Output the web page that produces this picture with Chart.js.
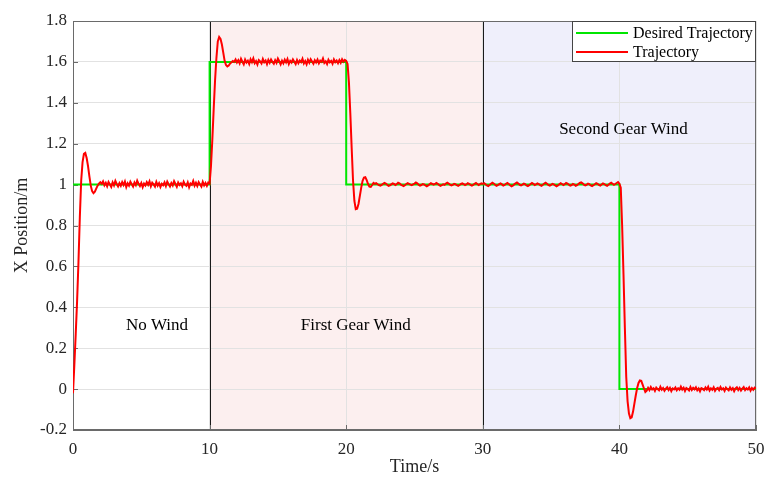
<!DOCTYPE html>
<html>
<head>
<meta charset="utf-8">
<script src="https://cdn.jsdelivr.net/npm/chart.js@4.4.1/dist/chart.umd.min.js"></script>
<style>
  html, body { margin: 0; padding: 0; background: #fff; }
  #wrap { width: 766px; height: 482px; }
</style>
</head>
<body>
<div id="wrap"><canvas id="chart" width="766" height="482"></canvas></div>
<script>
/* x position step response under three wind conditions */
const dt = 0.1; // sample step, seconds

// measured trajectory, one value every 0.1 s
const seg0 = [ // 0.0 – 9.9 s, no wind
  -0.02, 0.12, 0.27, 0.43, 0.62, 0.84, 1.02, 1.11, 1.15, 1.155,
  1.13, 1.09, 1.04, 0.995, 0.968, 0.958, 0.965, 0.98, 0.995, 1.005,
  1.012, 1.004, 1.016, 0.997, 1.009, 0.992, 1.013, 1.001, 0.989, 1.011,
  0.996, 1.018, 1.003, 0.991, 1.007, 0.994, 1.012, 0.998, 1.015, 0.988,
  1.006, 0.995, 1.014, 1.002, 0.99, 1.01, 0.997, 1.019, 1.004, 0.993,
  1.008, 0.987, 1.005, 0.996, 1.012, 0.999, 1.016, 0.992, 1.009, 1.001,
  0.99, 1.013, 0.995, 1.007, 0.988, 1.004, 0.997, 1.011, 0.993, 1.015,
  1.002, 0.991, 1.008, 0.996, 1.017, 1.003, 0.989, 1.01, 0.998, 1.006,
  0.992, 1.014, 1.0, 0.994, 1.011, 0.987, 1.005, 0.999, 1.018, 0.995,
  1.009, 0.993, 1.012, 1.001, 0.99, 1.013, 0.996, 1.008, 0.994, 1.01
];
const seg1 = [ // 10.0 – 19.9 s, first gear wind
  1.005, 1.09, 1.22, 1.37, 1.51, 1.62, 1.7, 1.722, 1.712, 1.685,
  1.645, 1.605, 1.585, 1.578, 1.582, 1.592, 1.598, 1.604, 1.6, 1.612,
  1.597, 1.608, 1.593, 1.615, 1.601, 1.588, 1.611, 1.597, 1.606, 1.59,
  1.613, 1.599, 1.617, 1.594, 1.604, 1.587, 1.609, 1.602, 1.592, 1.614,
  1.598, 1.607, 1.589, 1.61, 1.596, 1.612, 1.6, 1.591, 1.608, 1.595,
  1.616, 1.603, 1.588, 1.606, 1.593, 1.611, 1.598, 1.614, 1.59, 1.605,
  1.597, 1.612, 1.601, 1.589, 1.609, 1.594, 1.607, 1.599, 1.615, 1.592,
  1.604, 1.588, 1.61, 1.596, 1.613, 1.602, 1.591, 1.608, 1.597, 1.611,
  1.593, 1.606, 1.6, 1.617, 1.595, 1.603, 1.589, 1.61, 1.598, 1.605,
  1.591, 1.612, 1.599, 1.607, 1.594, 1.609, 1.596, 1.613, 1.601, 1.61
];
const seg2 = [ // 20.0 – 29.9 s, first gear wind
  1.605, 1.59, 1.5, 1.35, 1.18, 1.02, 0.92, 0.88, 0.882, 0.905,
  0.945, 0.985, 1.018, 1.034, 1.036, 1.022, 1.003, 0.99, 0.989, 0.998,
  1.008, 1.004, 1.007, 1.002, 0.997, 0.995, 0.999, 1.004, 1.008, 1.005,
  0.999, 0.994, 0.996, 1.001, 1.006, 1.003, 0.998, 1.002, 1.009, 1.006,
  1.0, 0.996, 0.993, 0.997, 1.003, 1.007, 1.004, 1.0, 0.997, 1.001,
  1.005, 1.01, 1.006, 0.999, 0.995, 0.998, 1.003, 1.001, 0.996, 0.992,
  0.996, 1.002, 1.007, 1.004, 1.0, 1.003, 1.008, 1.004, 0.998, 0.994,
  0.997, 1.001, 0.999, 1.005, 1.009, 1.005, 1.0, 0.996, 0.999, 1.004,
  1.002, 0.997, 0.994, 0.998, 1.003, 1.006, 1.002, 0.998, 1.001, 1.007,
  1.004, 0.999, 0.995, 0.999, 1.004, 1.008, 1.003, 0.998, 1.002, 1.006
];
const seg3 = [ // 30.0 – 39.9 s, second gear wind
  1.003, 1.007, 1.002, 0.996, 0.993, 0.998, 1.004, 1.009, 1.005, 0.999,
  0.994, 0.997, 1.002, 1.006, 1.001, 0.995, 0.998, 1.004, 1.008, 1.003,
  0.997, 0.992, 0.995, 1.001, 1.006, 1.01, 1.005, 0.999, 0.996, 1.0,
  1.005, 1.002, 0.996, 0.993, 0.997, 1.003, 1.008, 1.004, 0.998, 1.001,
  1.006, 1.003, 0.997, 0.994, 0.999, 1.005, 1.009, 1.004, 0.998, 0.995,
  0.999, 1.004, 1.001, 0.996, 0.992, 0.996, 1.002, 1.007, 1.003, 0.998,
  1.002, 1.008, 1.005, 0.999, 0.995, 0.998, 1.003, 1.0, 0.994, 0.997,
  1.003, 1.008, 1.011, 1.006, 1.0, 0.996, 0.999, 1.005, 1.002, 0.996,
  0.993, 0.997, 1.002, 1.007, 1.004, 0.998, 0.995, 1.0, 1.006, 1.003,
  0.997, 0.994, 0.999, 1.005, 1.009, 1.004, 0.999, 1.003, 1.008, 1.012
];
const seg4 = [ // 40.0 – 50.0 s, second gear wind
  1.004, 0.985, 0.8, 0.56, 0.3, 0.06, -0.06, -0.12, -0.142, -0.138,
  -0.11, -0.07, -0.03, 0.005, 0.03, 0.042, 0.04, 0.022, 0.003, -0.014,
  -0.008, 0.006, -0.005, 0.01, -0.002, 0.004, -0.009, 0.007, 0.0, -0.006,
  0.011, -0.003, 0.005, -0.008, 0.002, 0.009, -0.004, 0.006, -0.01, 0.003,
  -0.001, 0.008, -0.006, 0.004, -0.003, 0.012, -0.002, 0.007, -0.009, 0.005,
  0.0, -0.007, 0.01, -0.004, 0.006, -0.001, 0.009, -0.006, 0.003, -0.011,
  0.005, 0.001, -0.005, 0.008, -0.002, 0.011, -0.007, 0.004, -0.003, 0.009,
  -0.008, 0.002, 0.006, -0.005, 0.01, -0.002, 0.004, -0.009, 0.007, 0.0,
  -0.006, 0.008, -0.003, 0.005, -0.01, 0.003, 0.009, -0.004, 0.006, -0.007,
  0.002, 0.01, -0.005, 0.004, -0.002, 0.008, -0.008, 0.005, -0.003, 0.007,
  0.002
];
const trajX = [].concat(seg0, seg1, seg2, seg3, seg4);

// reference (desired) trajectory, as step corners
const desiredT = [0, 10, 10, 20, 20, 40, 40, 50];
const desiredX = [1, 1, 1.6, 1.6, 1, 1, 0, 0];

// wind zones
const windStart = [10, 30];
const windEnd = [30, 50];
const windFill = ['#fcefef', '#efeffb'];
const windLines = [10, 30];

const zoneNames = ['No Wind', 'First Gear Wind', 'Second Gear Wind'];
const zoneT = [6.15, 20.7, 40.3];
const zoneX = [0.31, 0.31, 1.27];

const legendNames = ['Desired Trajectory', 'Trajectory'];
const GREEN = '#00e600', RED = '#ff0000';
const SERIF = '"Liberation Serif", "Times New Roman", serif';
const INK = '#262626';

const trajData = trajX.map((v, i) => ({ x: +(i * dt).toFixed(1), y: v }));
const desiredData = desiredT.map((t, i) => ({ x: t, y: desiredX[i] }));

const zonesPlugin = {
  id: 'zones',
  beforeDraw(chart) {
    const { ctx, chartArea: a, scales: { x } } = chart;
    ctx.save();
    windStart.forEach((s, i) => {
      const x0 = x.getPixelForValue(s), x1 = x.getPixelForValue(windEnd[i]);
      ctx.fillStyle = windFill[i];
      ctx.fillRect(x0, a.top, x1 - x0, a.bottom - a.top);
    });
    ctx.restore();
  },
  beforeDatasetsDraw(chart) {
    const { ctx, chartArea: a, scales: { x, y } } = chart;
    ctx.save();
    // wind change markers
    ctx.strokeStyle = '#1a1a1a';
    ctx.lineWidth = 1;
    windLines.forEach(t => {
      const px = Math.round(x.getPixelForValue(t)) + 0.5;
      ctx.beginPath(); ctx.moveTo(px, a.top); ctx.lineTo(px, a.bottom); ctx.stroke();
    });
    // box
    ctx.strokeStyle = '#6a6a6a';
    ctx.strokeRect(a.left + 0.5, a.top + 0.5, a.right - a.left - 1, a.bottom - a.top - 1);
    // inward ticks
    ctx.beginPath();
    y.ticks.forEach(tk => {
      const py = Math.round(y.getPixelForValue(tk.value)) + 0.5;
      ctx.moveTo(a.left, py); ctx.lineTo(a.left + 5, py);
    });
    x.ticks.forEach(tk => {
      const px = Math.round(x.getPixelForValue(tk.value)) + 0.5;
      ctx.moveTo(px, a.bottom); ctx.lineTo(px, a.bottom - 5);
    });
    ctx.stroke();
    ctx.restore();
  },
  afterDatasetsDraw(chart) {
    const { ctx, scales: { x, y } } = chart;
    ctx.save();
    ctx.fillStyle = '#000';
    ctx.font = '17px ' + SERIF;
    ctx.textAlign = 'center';
    ctx.textBaseline = 'middle';
    zoneNames.forEach((n, i) => ctx.fillText(n, x.getPixelForValue(zoneT[i]), y.getPixelForValue(zoneX[i])));
    ctx.restore();
  },
  afterDraw(chart) {
    const { ctx, chartArea: a } = chart;
    ctx.save();
    // axis titles
    ctx.fillStyle = INK;
    ctx.font = '18px ' + SERIF;
    ctx.textAlign = 'center';
    ctx.textBaseline = 'middle';
    ctx.fillText('Time/s', (a.left + a.right) / 2, 467);
    ctx.translate(22, (a.top + a.bottom) / 2);
    ctx.rotate(-Math.PI / 2);
    ctx.fillText('X Position/m', 0, 0);
    ctx.restore();

    // legend
    ctx.save();
    const bx = 572, by = a.top, bw = a.right - 572, bh = 41;
    ctx.fillStyle = '#fff';
    ctx.fillRect(bx, by, bw, bh);
    ctx.strokeStyle = '#444';
    ctx.lineWidth = 1;
    ctx.strokeRect(bx + 0.5, by + 0.5, bw - 1, bh - 1);
    ctx.font = '16px ' + SERIF;
    ctx.textBaseline = 'middle';
    ctx.textAlign = 'left';
    [GREEN, RED].forEach((c, i) => {
      const ly = by + 12 + i * 19;
      ctx.strokeStyle = c; ctx.lineWidth = 2;
      ctx.beginPath(); ctx.moveTo(576, ly); ctx.lineTo(628, ly); ctx.stroke();
      ctx.fillStyle = '#000';
      ctx.fillText(legendNames[i], 633, ly + 1);
    });
    ctx.restore();
  }
};

new Chart(document.getElementById('chart'), {
  type: 'line',
  data: {
    datasets: [
      { label: 'Desired Trajectory', data: desiredData, borderColor: GREEN, borderWidth: 2, pointRadius: 0, order: 2 },
      { label: 'Trajectory', data: trajData, borderColor: RED, borderWidth: 2, pointRadius: 0, tension: 0, order: 1 }
    ]
  },
  options: {
    responsive: false,
    animation: false,
    events: [],
    layout: { padding: { left: 0, top: 21, right: 10, bottom: 0 } },
    plugins: { legend: { display: false }, tooltip: { enabled: false } },
    scales: {
      x: {
        type: 'linear', min: 0, max: 50,
        afterFit(s) { s.height = 52; s.paddingLeft = 0; s.paddingRight = 0; },
        grid: { color: '#e2e2e2', drawTicks: false },
        border: { display: true, color: '#6a6a6a' },
        ticks: { stepSize: 10, padding: 9, color: INK, font: { family: SERIF, size: 17 }, maxRotation: 0 }
      },
      y: {
        min: -0.2, max: 1.8,
        afterFit(s) { s.width = 73; s.paddingTop = 0; s.paddingBottom = 0; },
        grid: { color: '#e2e2e2', drawTicks: false },
        border: { display: true, color: '#6a6a6a' },
        ticks: { stepSize: 0.2, padding: 6, color: INK, font: { family: SERIF, size: 17 },
                 callback: v => String(+v.toFixed(1)) }
      }
    }
  },
  plugins: [zonesPlugin]
});
</script>
</body>
</html>
